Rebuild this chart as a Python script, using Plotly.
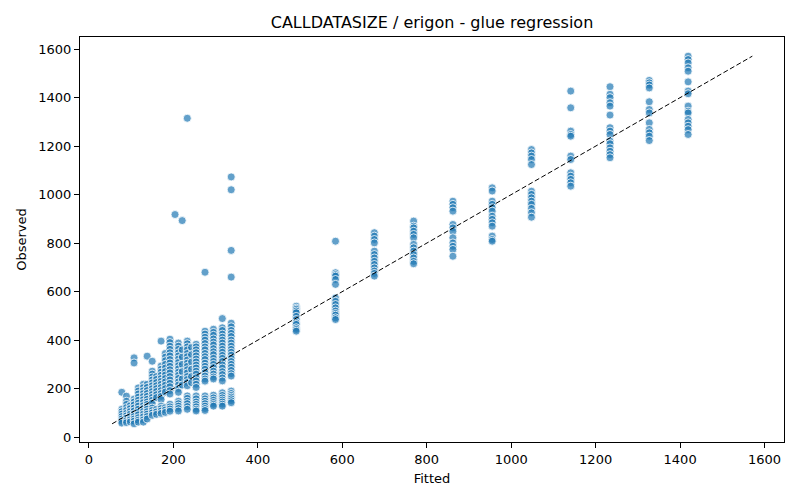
import plotly.graph_objects as go

fitted_cols = [78, 89, 98, 107, 117, 129, 138, 150, 160, 171, 181, 192, 204, 212,
               221, 233, 243, 254, 275, 295, 316, 337, 491, 584, 676, 769, 862, 955,
               1048, 1141, 1234, 1327, 1419]

observed_cols = [
    [185, 115, 105, 95, 85, 75, 66, 58],
    [169, 148, 135, 122, 110, 98, 88, 78, 68, 60],
    [130, 118, 106, 95, 84, 72, 63],
    [327, 306, 157, 145, 133, 120, 108, 96, 85, 75, 66, 55],
    [203, 190, 178, 165, 152, 140, 128, 115, 103, 92, 80, 70, 62],
    [218, 205, 192, 180, 168, 155, 143, 130, 118, 106, 95, 84, 72, 62],
    [334, 218, 205, 192, 180, 168, 156, 145, 135, 125, 115, 105, 95, 85, 75],
    [313, 272, 260, 248, 236, 224, 212, 200, 188, 176, 164, 152, 140, 120, 110, 100, 90],
    [250, 238, 225, 212, 200, 188, 175, 163, 115, 104, 94],
    [396, 293, 280, 268, 255, 242, 230, 218, 205, 192, 180, 168, 155, 128, 118, 108, 98],
    [345, 330, 315, 300, 285, 270, 256, 242, 228, 214, 200, 186, 122, 112, 102],
    [404, 390, 375, 362, 348, 335, 320, 306, 292, 278, 265, 250, 236, 222, 208, 192, 178,
     136, 125, 116, 107],
    [918],
    [388, 375, 362, 348, 335, 322, 308, 295, 282, 268, 255, 242, 228, 215, 200, 185,
     148, 138, 128, 118, 108],
    [893, 360, 330, 300, 270, 240, 215],
    [1315, 396, 385, 372, 360, 345, 332, 318, 305, 292, 278, 265, 250, 238, 225, 212,
     170, 160, 148, 138, 126, 115],
    [370, 340, 310, 280, 250, 225],
    [383, 372, 360, 348, 335, 322, 310, 297, 285, 272, 260, 245, 232, 218, 205,
     170, 158, 145, 135, 125, 115, 108],
    [680, 437, 425, 412, 400, 386, 372, 360, 345, 332, 320, 305, 292, 280, 266, 252, 240, 231,
     170, 158, 148, 138, 128, 118, 110],
    [445, 432, 420, 405, 392, 380, 365, 352, 340, 325, 312, 300, 287, 272, 260, 248, 240,
     173, 162, 152, 143, 135, 128],
    [489, 451, 440, 425, 412, 400, 388, 375, 362, 350, 337, 325, 312, 298, 285, 270, 258, 244, 232,
     183, 172, 162, 153, 145, 136, 128],
    [1073, 1020, 770, 660, 470, 455, 440, 428, 415, 400, 388, 375, 362, 350, 338, 325, 312, 300,
     288, 275, 262, 252, 190, 180, 172, 165, 158, 150, 142],
    [540, 532, 527, 520, 513, 498, 485, 472, 465, 451, 444, 437],
    [808, 678, 670, 664, 650, 630, 574, 560, 547, 533, 520, 510, 503, 492, 485],
    [843, 829, 815, 801, 767, 753, 739, 725, 712, 698, 685, 675, 664],
    [891, 870, 863, 849, 836, 822, 795, 781, 767, 753, 739, 725, 715],
    [973, 960, 946, 932, 877, 863, 849, 822, 801, 787, 774, 746],
    [1028, 1015, 973, 960, 946, 932, 911, 898, 884, 870, 829, 815, 808],
    [1186, 1172, 1159, 1145, 1124, 1014, 1001, 987, 973, 960, 943, 925, 907],
    [1427, 1358, 1262, 1248, 1241, 1159, 1145, 1090, 1076, 1063, 1049, 1035],
    [1445, 1414, 1400, 1379, 1365, 1328, 1276, 1262, 1248, 1221, 1210, 1193, 1179, 1165, 1152],
    [1471, 1461, 1452, 1440, 1383, 1351, 1337, 1296, 1269, 1255, 1241, 1223],
    [1571, 1557, 1543, 1523, 1509, 1465, 1427, 1416, 1365, 1344, 1337, 1310, 1296, 1282, 1268, 1248],
]

tick_vals = [0, 200, 400, 600, 800, 1000, 1200, 1400, 1600]

# flatten columns into points
x = []
y = []
for f, obs in zip(fitted_cols, observed_cols):
    for o in obs:
        x.append(f)
        y.append(o)

lo = min(min(x), min(y))
hi = max(max(x), max(y))

fig = go.Figure()

fig.add_trace(go.Scatter(
    x=x, y=y, mode='markers',
    marker=dict(size=8, color='rgba(31,119,180,0.7)',
                line=dict(color='white', width=0.8)),
    showlegend=False, cliponaxis=False
))

# identity line
fig.add_trace(go.Scatter(
    x=[lo, hi], y=[lo, hi], mode='lines',
    line=dict(color='black', width=1, dash='5px,2.5px'),
    showlegend=False
))

axis_style = dict(
    showline=True, linecolor='black', linewidth=1, mirror=True,
    ticks='outside', ticklen=5, tickcolor='black', tickwidth=1,
    showgrid=False, zeroline=False, tickvals=tick_vals,
    tickfont=dict(size=13, color='black'),
)

fig.update_layout(
    width=800, height=500,
    paper_bgcolor='white', plot_bgcolor='white',
    font=dict(family='DejaVu Sans', color='black'),
    margin=dict(l=72, r=24, t=29, b=66),
    title=dict(text='CALLDATASIZE / erigon - glue regression',
               x=0.5, xref='paper', y=0.972, yref='container',
               xanchor='center', yanchor='middle',
               font=dict(size=16, color='black')),
    xaxis=dict(axis_style, range=[-21, 1646],
               title=dict(text='Fitted', font=dict(size=13), standoff=8)),
    yaxis=dict(axis_style, range=[-20, 1650],
               title=dict(text='Observed', font=dict(size=13), standoff=8)),
)

fig.write_html("out.html")
